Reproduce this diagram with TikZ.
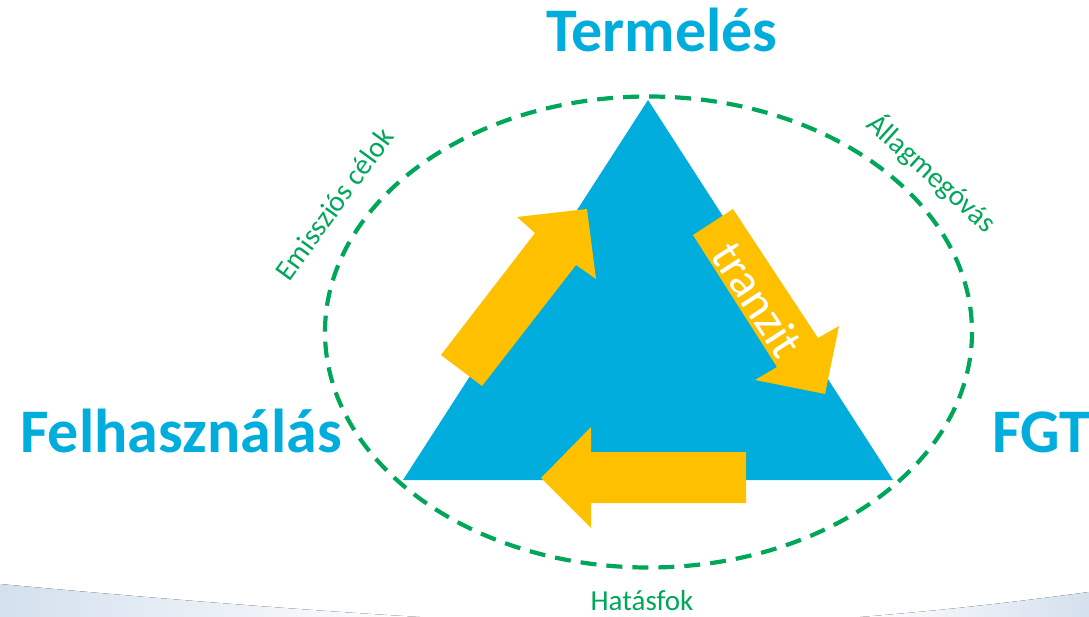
\documentclass[tikz,border=0pt]{standalone}
\usepackage{fontspec}
\setmainfont{Carlito}
\definecolor{triblue}{RGB}{0,173,220}
\definecolor{arrowyellow}{RGB}{255,192,0}
\definecolor{aimgreen}{RGB}{0,166,90}
\definecolor{swoosh}{RGB}{212,224,238}
\begin{document}
\begin{tikzpicture}[x=1pt,y=-1pt,line join=miter,
	corner/.style={font=\fontsize{62}{72}\selectfont\bfseries,text=triblue,inner sep=0pt},
	aim/.style={font=\fontsize{29}{33}\selectfont,text=aimgreen,inner sep=0pt},
	flow/.style={fill=arrowyellow}]
	\useasboundingbox (0,0) rectangle (1089,617);
	% faint swoosh at the bottom of the slide
	\fill[left color=swoosh,right color=white] (0,584) .. controls (150,598) and (300,610) .. (420,617) -- (0,617) -- cycle;
	\fill[left color=white,right color=swoosh] (860,617) .. controls (950,610) and (1030,600) .. (1089,592) -- (1089,617) -- cycle;
	% triangle
	\coordinate (top) at (648,100);
	\coordinate (bl) at (403,480);
	\coordinate (br) at (893,480);
	\fill[triblue] (top)--(bl)--(br)--cycle;
	% dashed ring
	\draw[aimgreen,line width=4.2pt,dash pattern=on 16pt off 10pt] (648.5,332) ellipse (323.5 and 235.5);
	% arrows
	\fill[flow] (441,355)--(535,233)--(517,217)--(587,209)--(596,279)--(576,265)--(482,386)--cycle;
	\fill[flow] (733,209)--(818,338)--(839,326)--(825,394)--(755,380)--(777,367)--(693,235)--cycle;
	\fill[flow] (746,452)--(591,452)--(591,427)--(541,478)--(591,528)--(591,503)--(746,503)--cycle;
	\node[rotate=-57,text=white,font=\fontsize{48}{52}\selectfont,inner sep=0pt] (tranzit) at (758,299) {tranzit};
	% corners
	\node[corner,anchor=base] (termeles) at (662,52) {Termelés};
	\node[corner,anchor=base] (felhasznalas) at (181,452) {Felhasználás};
	\node[corner,anchor=base] (fgt) at (1041.5,452) {FGT};
	% aims
	\node[aim,rotate=54] (emisszio) at (334,204) {Emissziós célok};
	\node[aim,rotate=-42] (allag) at (932,173) {Állagmegóvás};
	\node[aim,anchor=base] (hatasfok) at (642,610) {Hatásfok};
\end{tikzpicture}
\end{document}
